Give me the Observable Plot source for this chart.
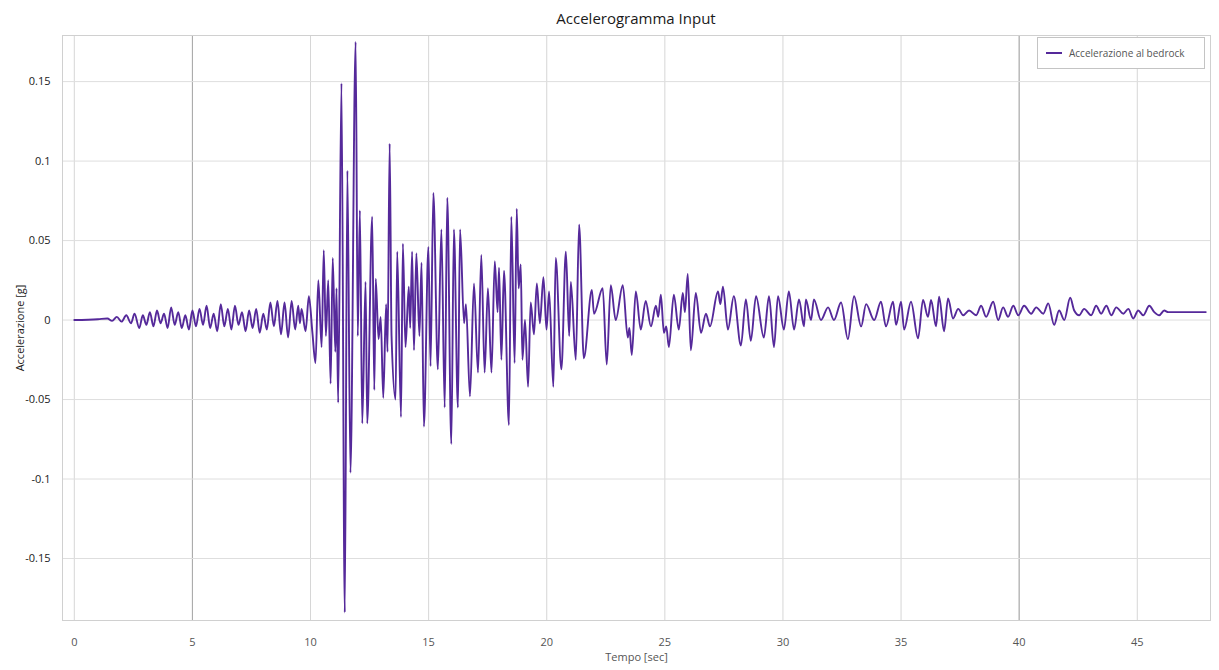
<!DOCTYPE html>
<html><head><meta charset="utf-8">
<script src="https://cdn.jsdelivr.net/npm/d3@7"></script>
<script src="https://cdn.jsdelivr.net/npm/@observablehq/plot@0.6"></script>
<style>
body{margin:0;background:#fff;font-family:"Open Sans","Noto Sans",sans-serif;}
#wrap{position:relative;width:1219px;height:670px;}
#title{position:absolute;left:62px;width:1148px;top:8px;text-align:center;font-size:15px;color:#1a1a1a;}
#legend{position:absolute;left:1037px;top:37px;width:168px;height:32px;border:1px solid #c4c4c4;background:#fff;font-size:10px;color:#555;display:flex;align-items:center;box-sizing:border-box;}
#legend .sw{display:inline-block;width:16px;height:0;border-top:2px solid #55299a;margin:0 7px 0 8px;}
</style></head>
<body><div id="wrap"><div id="chart"></div><div id="title">Accelerogramma Input</div>
<div id="legend"><span class="sw"></span><span>Accelerazione al bedrock</span></div></div>
<script>
const chartTitle = "Accelerogramma Input";
const seriesName = "Accelerazione al bedrock";
const xLabel = "Tempo [sec]";
const yLabel = "Accelerazione [g]";
const xTicks = [0, 5, 10, 15, 20, 25, 30, 35, 40, 45];
const xTicksDark = [5, 40];
const yTicks = [-0.15, -0.1, -0.05, 0, 0.05, 0.1, 0.15];

// time of each sample [s]
const tSec = [
 0,1.0,1.4,1.6,1.8,2.0,2.2,2.4,2.55,2.75,
 2.9,3.05,3.2,3.35,3.5,3.65,3.8,3.95,4.1,4.25,
 4.4,4.55,4.7,4.85,5.0,5.15,5.3,5.45,5.6,5.75,
 5.9,6.05,6.2,6.35,6.5,6.65,6.8,6.95,7.1,7.25,
 7.4,7.55,7.7,7.85,8.0,8.15,8.3,8.45,8.6,8.75,
 8.9,9.05,9.2,9.35,9.48,9.55,9.62,9.79,9.93,10.08,
 10.21,10.33,10.47,10.56,10.65,10.75,10.85,10.94,11.05,11.10,
 11.17,11.31,11.45,11.56,11.69,11.91,12.0,12.09,12.19,12.33,
 12.40,12.61,12.70,12.76,12.88,12.97,13.08,13.2,13.26,13.35,
 13.43,13.60,13.67,13.83,13.91,14.02,14.16,14.22,14.30,14.38,
 14.48,14.61,14.70,14.80,14.99,15.08,15.20,15.39,15.54,15.68,
 15.79,15.96,16.07,16.24,16.33,16.50,16.58,16.75,16.92,17.09,
 17.23,17.37,17.51,17.66,17.80,17.92,17.98,18.08,18.19,18.40,
 18.50,18.64,18.73,18.81,18.90,18.97,19.08,19.21,19.32,19.46,
 19.58,19.71,19.86,19.99,20.10,20.28,20.38,20.62,20.81,20.95,
 21.02,21.23,21.37,21.57,21.91,22.0,22.37,22.54,22.71,22.92,
 23.22,23.43,23.5,23.60,23.77,23.98,24.19,24.41,24.62,24.72,
 24.83,24.96,25.06,25.17,25.38,25.59,25.76,25.85,25.97,26.10,
 26.31,26.53,26.74,26.91,27.25,27.35,27.46,27.67,27.92,28.22,
 28.43,28.64,28.86,29.19,29.41,29.62,29.79,30.04,30.25,30.47,
 30.68,30.89,30.97,31.19,31.31,31.61,31.91,32.16,32.46,32.75,
 33.01,33.31,33.52,33.86,34.15,34.36,34.66,34.79,35.0,35.13,
 35.42,35.72,35.93,36.14,36.27,36.48,36.61,36.82,36.99,37.20,
 37.42,37.63,37.88,38.18,38.39,38.60,38.90,39.11,39.32,39.53,
 39.75,39.96,40.21,40.51,40.72,41.02,41.23,41.48,41.69,41.91,
 42.16,42.33,42.54,42.75,43.05,43.26,43.47,43.69,43.90,44.11,
 44.41,44.62,44.83,45.04,45.25,45.51,45.72,45.93,46.14,46.31,
 47.9
];
// acceleration [g]
const accG = [
 0,0.0005,0.001,-0.0005,0.002,-0.001,0.003,-0.002,0.004,-0.005,
 0.003,-0.003,0.005,-0.004,0.006,-0.002,0.004,-0.005,0.008,-0.003,
 0.005,-0.005,0.003,-0.006,0.006,-0.004,0.007,-0.003,0.009,-0.005,
 0.004,-0.007,0.010,-0.004,0.007,-0.006,0.009,-0.003,0.005,-0.007,
 0.006,-0.005,0.007,-0.008,0.004,-0.006,0.011,-0.004,0.012,-0.009,
 0.011,-0.011,0.012,-0.006,0.009,-0.002,0.007,-0.007,0.015,-0.008,
 -0.027,0.025,-0.017,0.044,-0.010,0.025,-0.040,0.039,-0.020,0.020,
 -0.052,0.149,-0.184,0.094,-0.096,0.175,-0.010,0.069,-0.065,0.024,
 -0.065,0.065,-0.044,0.026,-0.012,0.002,-0.049,0.010,-0.020,0.111,
 -0.010,-0.050,0.043,-0.061,0.048,-0.017,0.021,-0.005,0.043,-0.019,
 0.042,-0.010,0.036,-0.067,0.046,-0.029,0.080,-0.031,0.057,-0.055,
 0.077,-0.078,0.057,-0.055,0.057,-0.002,0.010,-0.048,0.023,-0.033,
 0.041,-0.033,0.020,-0.033,0.037,0.005,0.033,-0.025,0.031,-0.066,
 0.065,-0.027,0.070,0.020,0.035,-0.025,0.000,-0.042,0.011,-0.009,
 0.023,-0.002,0.027,-0.006,0.018,-0.042,0.039,-0.031,0.043,-0.010,
 0.024,-0.025,0.060,-0.024,0.019,0.004,0.020,-0.028,0.022,0.000,
 0.022,-0.011,-0.005,-0.022,0.018,-0.006,0.012,-0.004,0.009,0.002,
 0.016,-0.008,-0.004,-0.017,0.016,-0.006,0.017,0.005,0.029,-0.019,
 0.017,-0.008,0.004,-0.004,0.018,0.010,0.021,-0.006,0.015,-0.016,
 0.013,-0.013,0.015,-0.011,0.015,-0.017,0.015,-0.006,0.018,-0.006,
 0.013,-0.004,0.013,0.000,0.013,0.000,0.008,0.000,0.011,-0.012,
 0.015,-0.004,0.010,0.000,0.0115,-0.004,0.0115,-0.003,0.0115,-0.006,
 0.0115,-0.0115,0.0126,0.002,0.0126,-0.004,0.0147,-0.007,0.0136,0.001,
 0.007,0.003,0.006,0.003,0.009,0.002,0.0115,0.000,0.008,0.002,
 0.009,0.003,0.009,0.004,0.008,0.004,0.0105,-0.003,0.006,0.000,
 0.014,0.006,0.003,0.007,0.003,0.009,0.004,0.009,0.003,0.008,
 0.004,0.007,0.001,0.006,0.003,0.009,0.005,0.003,0.006,0.005,
 0.005
];

const data = tSec.map((t, i) => ({t, a: accG[i], s: seriesName}));
const fmtY = d => d === 0 ? "0" : String(d);

const chart = Plot.plot({
  width: 1219,
  height: 670,
  marginLeft: 62,
  marginRight: 9,
  marginTop: 35,
  marginBottom: 50,
  style: {fontFamily: "'Open Sans','Noto Sans',sans-serif", fontSize: "11px", color: "#222"},
  x: {domain: [-0.5, 48.1]},
  y: {domain: [-0.189, 0.179]},
  marks: [
    Plot.gridX(xTicks, {stroke: "#d6d6d6", strokeOpacity: 1}),
    Plot.gridX(xTicksDark, {stroke: "#a8a8a8", strokeOpacity: 1}),
    Plot.gridY(yTicks, {stroke: "#dedede", strokeOpacity: 1}),
    Plot.frame({stroke: "#d0d0d0"}),
    Plot.axisX({ticks: xTicks, tickSize: 0, tickPadding: 18, fill: "#555", label: xLabel, labelAnchor: "center", labelOffset: 40, labelArrow: "none"}),
    Plot.axisY({ticks: yTicks, tickSize: 0, tickPadding: 12, fill: "#1a1a1a", tickFormat: fmtY, label: yLabel, labelAnchor: "center", labelOffset: 46, labelArrow: "none"}),
    Plot.lineY(data, {x: "t", y: "a", stroke: "#55299a", strokeWidth: 1.9, curve: "monotone-x"})
  ]
});
document.getElementById("chart").appendChild(chart);
document.getElementById("title").textContent = chartTitle;
</script>
</body></html>
